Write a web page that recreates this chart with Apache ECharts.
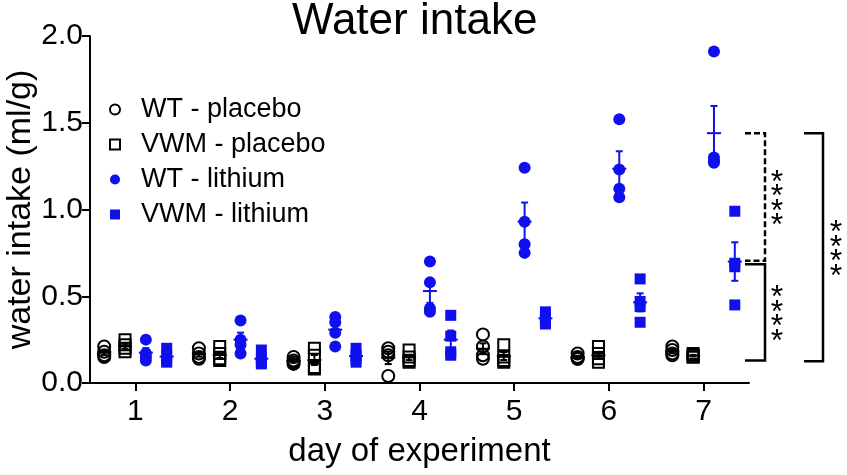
<!DOCTYPE html>
<html>
<head>
<meta charset="utf-8">
<script src="https://cdn.jsdelivr.net/npm/echarts@6/dist/echarts.min.js"></script>
<style>
  html, body { margin: 0; padding: 0; background: #fff; }
  #chart { width: 847px; height: 475px; }
</style>
</head>
<body>
<div id="chart"></div>
<script>
// ---------------- data ----------------
const days = [1, 2, 3, 4, 5, 6, 7];
const yTicks = [0, 0.5, 1.0, 1.5, 2.0];
const seriesNames = ['WT - placebo', 'VWM - placebo', 'WT - lithium', 'VWM - lithium'];
// individual animals per day (ml/g)
const wtPlacebo  = [[0.21,0.18,0.16,0.15],[0.20,0.17,0.15,0.14],[0.15,0.13,0.12,0.11],[0.20,0.18,0.16,0.04],[0.28,0.21,0.16,0.14],[0.17,0.15,0.14,0.14],[0.21,0.19,0.17,0.16]];
const vwmPlacebo = [[0.25,0.22,0.20,0.18],[0.21,0.17,0.14,0.13],[0.20,0.16,0.09,0.08],[0.19,0.15,0.13,0.12],[0.22,0.15,0.13,0.12],[0.21,0.17,0.14,0.12],[0.17,0.16,0.15,0.15]];
const wtLithium  = [[0.25,0.17,0.15,0.13],[0.36,0.25,0.22,0.17],[0.38,0.35,0.29,0.21],[0.70,0.58,0.43,0.41],[1.24,0.93,0.80,0.75],[1.52,1.23,1.12,1.07],[1.91,1.30,1.28,1.27]];
const vwmLithium = [[0.20,0.16,0.13,0.12],[0.19,0.14,0.12,0.11],[0.20,0.16,0.14,0.12],[0.39,0.27,0.18,0.16],[0.41,0.38,0.36,0.34],[0.60,0.47,0.44,0.35],[0.99,0.69,0.67,0.45]];
// significance brackets (value ranges on y axis)
const bracketDashed = [1.44, 0.705];
const bracketInner  = [0.685, 0.13];
const bracketOuter  = [1.44, 0.125];
const sigLabel = '****';

// ---------------- styling ----------------
const FONT = 'Liberation Sans, Arial, Helvetica, sans-serif';
const BLUE = '#1010ee';
const groups = [
  { name: seriesNames[0], data: wtPlacebo,  off: -0.33, symbol: 'circle', fill: 'rgba(0,0,0,0)', stroke: '#000', bar: '#000' },
  { name: seriesNames[1], data: vwmPlacebo, off: -0.11, symbol: 'rect',   fill: 'rgba(0,0,0,0)', stroke: '#000', bar: '#000' },
  { name: seriesNames[2], data: wtLithium,  off:  0.11, symbol: 'circle', fill: BLUE, stroke: BLUE, bar: BLUE },
  { name: seriesNames[3], data: vwmLithium, off:  0.33, symbol: 'rect',   fill: BLUE, stroke: BLUE, bar: BLUE }
];

function meanSem(arr) {
  const n = arr.length;
  const m = arr.reduce((a, b) => a + b, 0) / n;
  const sd = Math.sqrt(arr.reduce((a, b) => a + (b - m) * (b - m), 0) / (n - 1));
  return [m, sd / Math.sqrt(n)];
}

const series = [];
groups.forEach((g) => {
  const pts = [];
  g.data.forEach((vals, i) => vals.forEach(v => pts.push([days[i] + g.off, v])));
  series.push({
    name: g.name,
    type: 'scatter',
    data: pts,
    symbol: g.symbol,
    symbolSize: g.symbol === 'circle' ? 12 : 11,
    itemStyle: { color: g.fill, borderColor: g.stroke, borderWidth: g.fill === BLUE ? 0 : 2, opacity: 1 },
    emphasis: { disabled: true },
    z: 2
  });
});
groups.forEach((g) => {
  const eb = g.data.map((vals, i) => {
    const [m, s] = meanSem(vals);
    return [days[i] + g.off, m, m - s, m + s];
  });
  series.push({
    type: 'custom',
    data: eb,
    z: 5,
    silent: true,
    renderItem: function (params, api) {
      const x = api.value(0);
      const pm = api.coord([x, api.value(1)]);
      const plo = api.coord([x, api.value(2)]);
      const phi = api.coord([x, api.value(3)]);
      const st = { stroke: g.bar, lineWidth: 2 };
      return {
        type: 'group',
        children: [
          { type: 'line', shape: { x1: pm[0] - 7, y1: pm[1], x2: pm[0] + 7, y2: pm[1] }, style: st },
          { type: 'line', shape: { x1: plo[0], y1: plo[1], x2: phi[0], y2: phi[1] }, style: st },
          { type: 'line', shape: { x1: phi[0] - 3.5, y1: phi[1], x2: phi[0] + 3.5, y2: phi[1] }, style: st },
          { type: 'line', shape: { x1: plo[0] - 3.5, y1: plo[1], x2: plo[0] + 3.5, y2: plo[1] }, style: st }
        ]
      };
    }
  });
});

const chart = echarts.init(document.getElementById('chart'), null, { renderer: 'canvas' });
chart.setOption({
  animation: false,
  backgroundColor: '#fff',
  textStyle: { fontFamily: FONT },
  title: {
    text: 'Water intake',
    left: 292, top: 0, padding: 0,
    textStyle: { fontFamily: FONT, fontSize: 44, fontWeight: 'normal', color: '#000' }
  },
  legend: {
    orient: 'vertical',
    left: 109, top: 96, padding: 0,
    itemWidth: 10, itemHeight: 10, itemGap: 8,
    data: seriesNames,
    textStyle: { fontFamily: FONT, fontSize: 27, color: '#000', padding: [0, 0, 0, 16] },
    selectedMode: false
  },
  grid: { left: 90, right: 98, top: 36, bottom: 92, containLabel: false, outerBoundsMode: 'none' },
  xAxis: {
    type: 'value',
    min: 0.52, max: 7.48,
    name: 'day of experiment',
    nameLocation: 'middle', nameGap: 52,
    nameTextStyle: { fontFamily: FONT, fontSize: 33, color: '#000' },
    axisLine: { lineStyle: { color: '#000', width: 2 } },
    axisTick: { show: true, length: 8, lineStyle: { color: '#000', width: 2 }, customValues: days },
    axisLabel: { fontFamily: FONT, fontSize: 30, color: '#000', margin: 14, customValues: days },
    splitLine: { show: false }
  },
  yAxis: {
    type: 'value',
    min: 0, max: 2, interval: 0.5,
    name: 'water intake (ml/g)',
    nameLocation: 'middle', nameGap: 52, nameRotate: 90, nameMoveOverlap: false,
    nameTextStyle: { fontFamily: FONT, fontSize: 34, color: '#000' },
    axisLine: { show: true, lineStyle: { color: '#000', width: 2 } },
    axisTick: { show: true, length: 8, lineStyle: { color: '#000', width: 2 } },
    axisLabel: { fontFamily: FONT, fontSize: 30, color: '#000', margin: 7, formatter: v => v.toFixed(1) },
    splitLine: { show: false }
  },
  series: series
});

// ---------------- significance brackets ----------------
function yPx(v) { return chart.convertToPixel({ yAxisIndex: 0 }, v); }
const xr = chart.convertToPixel({ xAxisIndex: 0 }, 7.48);
const gfx = [];
function bracket(range, x1, x2, dashed, starX) {
  const yt = yPx(range[0]), yb = yPx(range[1]);
  const st = { stroke: '#000', lineWidth: 2.5, fill: null, lineDash: dashed ? [6, 3] : null };
  gfx.push({ type: 'polyline', shape: { points: [[x1, yt], [x2, yt], [x2, yb], [x1, yb]] }, style: st, z: 10 });
  const yc = (yt + yb) / 2;
  const chars = sigLabel.split('');
  const step = 14.5;
  chars.forEach((c, k) => {
    gfx.push({
      type: 'text', z: 10,
      style: { text: c, x: starX, y: yc + (k - (chars.length - 1) / 2) * step + 8,
               fontFamily: FONT, fontSize: 32, fill: '#000', align: 'center', verticalAlign: 'middle' }
    });
  });
}
bracket(bracketDashed, xr - 4, xr + 16, true, xr + 28);
bracket(bracketInner, xr - 4, xr + 16, false, xr + 28);
bracket(bracketOuter, xr + 55, xr + 74, false, xr + 87);
chart.setOption({ graphic: gfx });
</script>
</body>
</html>
